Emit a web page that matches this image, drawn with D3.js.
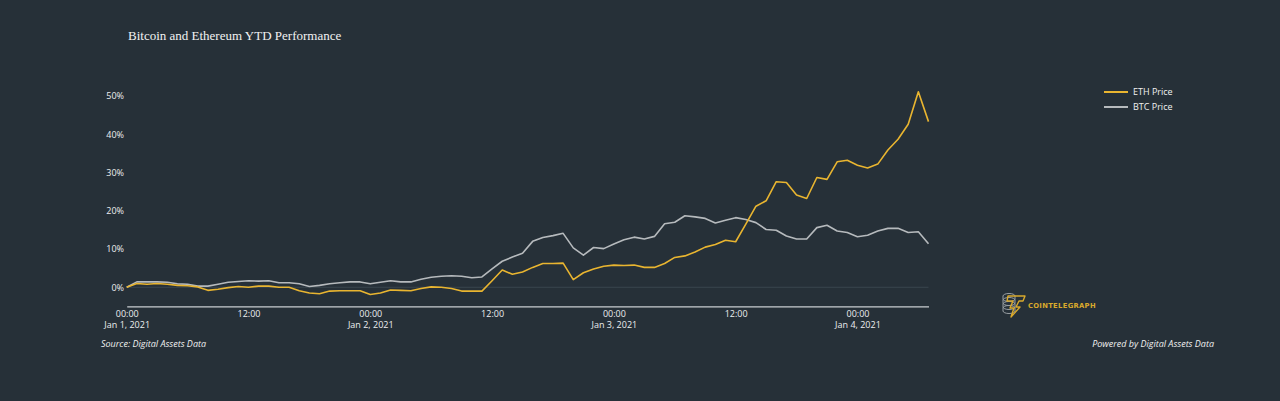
<!DOCTYPE html>
<html>
<head>
<meta charset="utf-8">
<script src="https://cdn.jsdelivr.net/npm/d3@7"></script>
<style>
  html, body { margin: 0; padding: 0; background: #263038; }
  svg { display: block; }
  .tick text { font-family: "Open Sans", sans-serif; }
</style>
</head>
<body>
<div id="chart"></div>
<script>
// hourly values, Jan 1 2021 00:00 onwards (% change since start)
const ethPrice = [
  0, 1.0, 0.8, 1.0, 0.8, 0.5, 0.4, 0.1, -0.8, -0.5,
  -0.1, 0.2, 0, 0.3, 0.3, 0, 0, -0.9, -1.5, -1.7,
  -1.0, -0.9, -0.9, -0.9, -1.9, -1.5, -0.7, -0.8, -0.9, -0.3,
  0.1, 0, -0.3, -1.0, -1.0, -1.0, 1.7, 4.5, 3.4, 4.0,
  5.2, 6.2, 6.2, 6.3, 2.0, 3.8, 4.8, 5.5, 5.8, 5.7,
  5.8, 5.2, 5.2, 6.2, 7.8, 8.2, 9.2, 10.5, 11.2, 12.3,
  11.9, 16.5, 21.2, 22.6, 27.6, 27.4, 24.1, 23.2, 28.7, 28.2,
  32.8, 33.2, 31.9, 31.2, 32.2, 35.9, 38.7, 42.6, 51.1, 43.3
];
const btcPrice = [
  0, 1.4, 1.4, 1.4, 1.3, 0.9, 0.8, 0.3, 0.3, 0.8,
  1.3, 1.5, 1.7, 1.6, 1.7, 1.2, 1.2, 0.9, 0.2, 0.5,
  0.9, 1.2, 1.4, 1.4, 0.9, 1.3, 1.7, 1.4, 1.4, 2.1,
  2.6, 2.9, 3.0, 2.9, 2.5, 2.7, 4.8, 6.8, 7.9, 8.9,
  12.0, 13.0, 13.5, 14.1, 10.3, 8.4, 10.4, 10.1, 11.3, 12.4,
  13.1, 12.6, 13.3, 16.6, 17.0, 18.7, 18.4, 18.0, 16.8, 17.5,
  18.2, 17.7, 16.9, 15.1, 14.9, 13.4, 12.6, 12.6, 15.6, 16.2,
  14.7, 14.3, 13.2, 13.6, 14.7, 15.4, 15.4, 14.3, 14.5, 11.4
];
const seriesNames = ["ETH Price", "BTC Price"];
const yTicks = [0, 10, 20, 30, 40, 50];
const xTickTimes = ["2021-01-01T00:00", "2021-01-01T12:00", "2021-01-02T00:00", "2021-01-02T12:00",
                    "2021-01-03T00:00", "2021-01-03T12:00", "2021-01-04T00:00"];
const xTickLines = [["00:00", "Jan 1, 2021"], ["12:00", ""], ["00:00", "Jan 2, 2021"], ["12:00", ""],
                    ["00:00", "Jan 3, 2021"], ["12:00", ""], ["00:00", "Jan 4, 2021"]];

const width = 1280, height = 401;
const gold = "#e9b530", grey = "#b6babd";
const start = new Date(2021, 0, 1, 0, 0);
const times = ethPrice.map((_, i) => new Date(start.getTime() + i * 3600e3));

const svg = d3.select("#chart").append("svg")
  .attr("width", width).attr("height", height);

svg.append("rect").attr("width", width).attr("height", height).attr("fill", "#263038");

svg.append("text")
  .attr("x", 128).attr("y", 40)
  .attr("fill", "#f2f2f2")
  .style("font-family", "'Liberation Serif', serif")
  .style("font-size", "13px")
  .text("Bitcoin and Ethereum YTD Performance");

const x = d3.scaleTime()
  .domain([start, times[times.length - 1]])
  .range([126.7, 928.5]);

const y = d3.scaleLinear()
  .domain([-5, 50])
  .range([306.4, 96]);

// y axis labels
const yAxis = svg.append("g")
  .attr("transform", "translate(126,0)")
  .call(d3.axisLeft(y).tickValues(yTicks).tickSize(0).tickPadding(2).tickFormat(d => d + "%"));
yAxis.select(".domain").remove();
yAxis.selectAll("text").attr("fill", "#eceeef").style("font-size", "9px");

// zero line
svg.append("line")
  .attr("x1", 126.7).attr("x2", 928.5)
  .attr("y1", y(0)).attr("y2", y(0))
  .attr("stroke", "#3a454d").attr("stroke-width", 1);

// x axis
const xAxis = svg.append("g")
  .attr("transform", `translate(0,${y(-5)})`)
  .call(d3.axisBottom(x)
    .tickValues(xTickTimes.map(s => new Date(s)))
    .tickSize(0)
    .tickFormat(""));
xAxis.select(".domain").attr("stroke", "#c9cdd0").attr("stroke-width", 1.2);
xAxis.selectAll(".tick").each(function(d, i) {
  const g = d3.select(this);
  xTickLines[i].forEach((line, k) => {
    g.append("text")
      .attr("y", 11 + k * 11)
      .attr("text-anchor", "middle")
      .attr("fill", "#eceeef")
      .style("font-size", "9px")
      .style("font-family", "'Open Sans', sans-serif")
      .text(line);
  });
});

const line = d3.line()
  .x((d, i) => x(times[i]))
  .y(d => y(d));

svg.append("path").datum(btcPrice)
  .attr("d", line).attr("fill", "none")
  .attr("stroke", grey).attr("stroke-width", 1.6).attr("stroke-linejoin", "round");

svg.append("path").datum(ethPrice)
  .attr("d", line).attr("fill", "none")
  .attr("stroke", gold).attr("stroke-width", 1.6).attr("stroke-linejoin", "round");

// legend
const legend = svg.append("g").attr("transform", "translate(1104,92)");
[gold, grey].forEach((c, i) => {
  legend.append("line")
    .attr("x1", 0).attr("x2", 24).attr("y1", i * 15).attr("y2", i * 15)
    .attr("stroke", c).attr("stroke-width", 2);
  legend.append("text")
    .attr("x", 29).attr("y", i * 15 + 3.3)
    .attr("fill", "#f0f0f0")
    .style("font-family", "'Open Sans', sans-serif")
    .style("font-size", "9px")
    .text(seriesNames[i]);
});

// cointelegraph logo (rough)
const logo = svg.append("g").attr("transform", "translate(1002,293)");
[0, 4, 8, 12].forEach(dy => {
  logo.append("path")
    .attr("d", `M1,${dy + 3} a6,2.5 0 0 1 12,0 v3 a6,2.5 0 0 1 -12,0 z`)
    .attr("fill", "none").attr("stroke", "#9aa0a4").attr("stroke-width", 1);
});
logo.append("path")
  .attr("d", "M6,3 L23,3 L21,8 L17,8 L14,14 L18,14 L9,24 L12,15 L8,15 L11,8 L5,8 Z")
  .attr("fill", "none").attr("stroke", "#d9a92c").attr("stroke-width", 1.4).attr("stroke-linejoin", "round");
svg.append("text")
  .attr("x", 1028).attr("y", 308)
  .attr("fill", "#d9a92c")
  .style("font-family", "'DejaVu Sans', sans-serif")
  .style("font-weight", "bold")
  .style("font-size", "6.8px")
  .style("letter-spacing", "0.3px")
  .text("COINTELEGRAPH");

// footer
svg.append("text")
  .attr("x", 101).attr("y", 346.5)
  .attr("fill", "#f0f0f0")
  .style("font-family", "'Open Sans', sans-serif")
  .style("font-style", "italic")
  .style("font-size", "9px")
  .text("Source: Digital Assets Data");
svg.append("text")
  .attr("x", 1214).attr("y", 346.5)
  .attr("text-anchor", "end")
  .attr("fill", "#f0f0f0")
  .style("font-family", "'Open Sans', sans-serif")
  .style("font-style", "italic")
  .style("font-size", "9px")
  .text("Powered by Digital Assets Data");
</script>
</body>
</html>
